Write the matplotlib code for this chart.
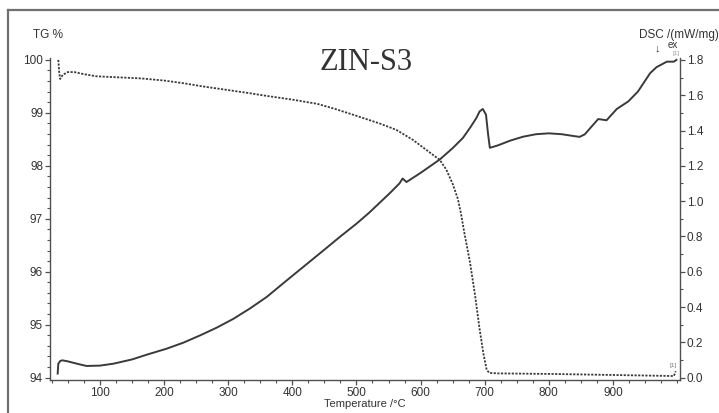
import matplotlib
matplotlib.use('Agg')
import matplotlib.pyplot as plt
from matplotlib.ticker import MultipleLocator
from matplotlib.lines import Line2D

# TG curve (mass %, left axis)
tg_temp = [35, 36.5, 38, 42, 50, 60, 75, 95, 130, 165, 200, 230, 260, 300, 334,
           360, 400, 439, 465, 501, 536, 562, 588, 609, 630, 640, 650, 658, 663,
           668, 677, 685, 692, 698, 703, 707, 720, 800, 900, 995, 998]
tg_mass = [100.0, 99.75, 99.64, 99.72, 99.77, 99.77, 99.73, 99.69, 99.67, 99.65,
           99.61, 99.56, 99.50, 99.43, 99.37, 99.32, 99.25, 99.17, 99.08, 98.94,
           98.80, 98.68, 98.49, 98.30, 98.11, 97.93, 97.66, 97.38, 97.10,
           96.75, 96.18, 95.55, 94.92, 94.45, 94.15, 94.09, 94.08, 94.07, 94.05,
           94.03, 94.12]

# DSC curve (mW/mg, right axis)
dsc_temp = [34, 35, 38, 41, 50, 65, 79, 100, 121, 150, 173, 204, 230, 256, 282,
            308, 334, 360, 391, 420, 450, 475, 500, 520, 536, 552, 567, 572, 578,
            600, 630, 650, 666, 678, 687, 692, 697, 702, 705, 708, 720, 740, 760,
            780, 800, 820, 840, 848, 856, 877, 890, 906, 924, 939, 958, 968, 984,
            995, 999]
dsc_val = [0.023, 0.079, 0.094, 0.098, 0.092, 0.078, 0.066, 0.068, 0.079, 0.103,
           0.130, 0.164, 0.198, 0.239, 0.283, 0.333, 0.392, 0.457, 0.55, 0.636,
           0.725, 0.80, 0.872, 0.935, 0.99, 1.045, 1.10, 1.128, 1.108, 1.16,
           1.236, 1.30, 1.358, 1.42, 1.471, 1.508, 1.522, 1.49, 1.387, 1.302,
           1.315, 1.343, 1.365, 1.379, 1.384, 1.379, 1.368, 1.364, 1.378, 1.465,
           1.458, 1.522, 1.565, 1.621, 1.725, 1.759, 1.79, 1.79, 1.80]

tg_ticks = [94, 95, 96, 97, 98, 99, 100]
dsc_ticks = [0.0, 0.2, 0.4, 0.6, 0.8, 1.0, 1.2, 1.4, 1.6, 1.8]
temp_ticks = [100, 200, 300, 400, 500, 600, 700, 800, 900]

plt.rcParams['font.family'] = ['Liberation Sans', 'DejaVu Sans']
axis_col = '#505050'
line_col = '#3a3a3a'
text_col = '#333333'

fig = plt.figure(figsize=(7.19, 4.13), dpi=100)
ax = fig.add_axes([0.0695, 0.0799, 0.8762, 0.7789])
ax2 = ax.twinx()

ax.plot(tg_temp, tg_mass, color=line_col, lw=1.3, ls=(0, (1.2, 0.8)))
ax2.plot(dsc_temp, dsc_val, color=line_col, lw=1.4)

ax.set_xlim(22, 1004.5)
ax.set_ylim(93.955, 100.03)
ax2.set_ylim((93.955 - 94) * 0.3, (100.03 - 94) * 0.3)

ax.set_xticks(temp_ticks)
ax.xaxis.set_minor_locator(MultipleLocator(25))
ax.set_yticks(tg_ticks)
ax.yaxis.set_minor_locator(MultipleLocator(0.2))
ax2.set_yticks(dsc_ticks)
ax2.set_yticklabels(['%.1f' % v for v in dsc_ticks])
ax2.yaxis.set_minor_locator(MultipleLocator(0.1))

for a in (ax, ax2):
    for s in a.spines.values():
        s.set_color(axis_col)
        s.set_linewidth(1.0)
    a.tick_params(which='major', length=3.5, width=0.9, color=axis_col,
                  labelsize=8.5, labelcolor=text_col, pad=1.5)
    a.tick_params(which='minor', length=2, width=0.8, color=axis_col)
ax.spines['top'].set_visible(False)
ax.spines['right'].set_visible(False)
ax2.spines['top'].set_visible(False)
ax2.spines['left'].set_visible(False)
ax2.spines['bottom'].set_visible(False)

ax.set_xlabel('Temperature /°C', fontsize=8, color=text_col, labelpad=0)

fig.text(33 / 719, 1 - 35 / 413, 'TG %', fontsize=8.5, color=text_col,
         ha='left', va='center')
fig.text(719 / 719, 1 - 35 / 413, 'DSC /(mW/mg)', fontsize=8.5,
         color=text_col, ha='right', va='center')
fig.text(657 / 719, 1 - 48 / 413, '↓', fontsize=8, color=text_col,
         ha='center', va='center', fontweight='bold')
fig.text(673 / 719, 1 - 45 / 413, 'ex', fontsize=7, color=text_col,
         ha='center', va='center')
fig.text(676 / 719, 1 - 53 / 413, '[1]', fontsize=4.5, color='#999999',
         ha='center', va='center')
fig.text(673 / 719, 1 - 365 / 413, '[1]', fontsize=4.5, color='#777777',
         ha='center', va='center')
fig.text(366 / 719, 1 - 63 / 413, 'ZIN-S3', fontsize=22, color=text_col,
         family='Liberation Serif', ha='center', va='center')

# outer frame of the figure
fig.add_artist(Line2D([8 / 719, 1.0], [1 - 10 / 413, 1 - 10 / 413],
                      transform=fig.transFigure, color='#707070', lw=1.6))
fig.add_artist(Line2D([8 / 719, 8 / 719], [0.0, 1 - 10 / 413],
                      transform=fig.transFigure, color='#707070', lw=1.6))

fig.savefig('out.png', dpi=100)
